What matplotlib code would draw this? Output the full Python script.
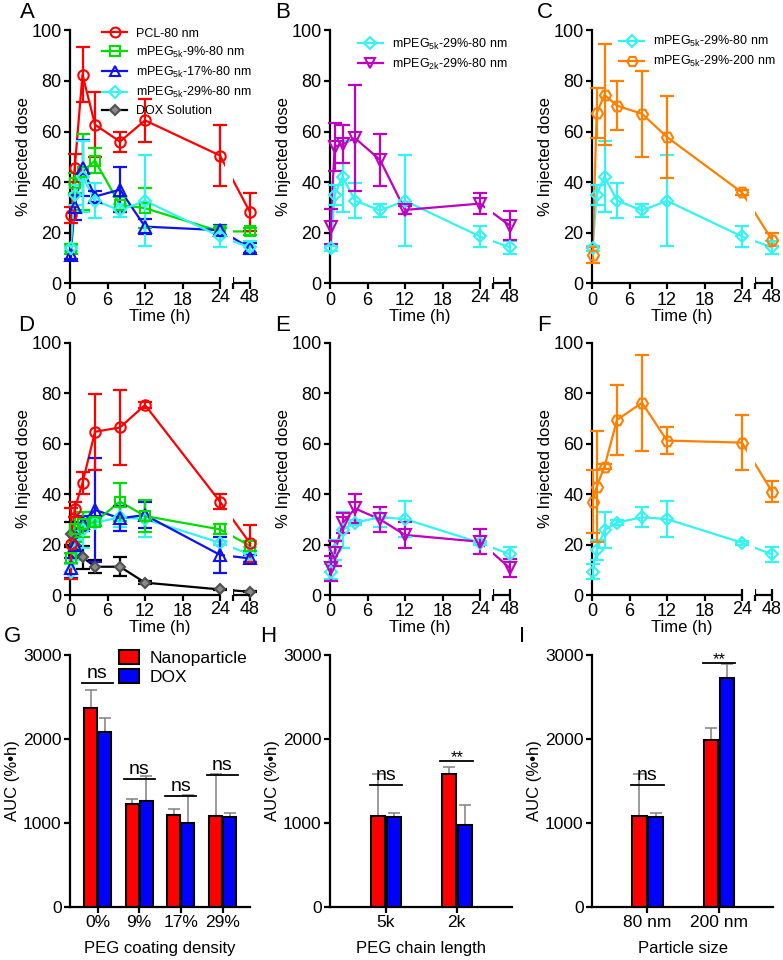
import matplotlib
matplotlib.use("Agg")
import matplotlib.pyplot as plt
from matplotlib.lines import Line2D
from matplotlib.patches import Patch
import numpy as np

plt.rcParams['font.family'] = ['Liberation Sans', 'DejaVu Sans']
plt.rcParams['mathtext.fontset'] = 'custom'
plt.rcParams['mathtext.rm'] = 'Liberation Sans'

# ---------------- data ----------------
times = [0.083, 0.75, 2, 4, 8, 12, 24, 48]

pcl80_A = [27, 45.5, 82.5, 62.7, 56, 64.4, 50.5, 28.1]
pcl80_A_err = [3, 5.5, 10.8, 12.8, 4, 8.4, 12, 7.5]
peg9_A = [13.5, 39.5, 44, 48.5, 31, 29.7, 20.5, 20.5]
peg9_A_err = [2, 4, 15, 5, 3, 8, 1.5, 1.5]
peg17_A = [11.2, 30, 45.5, 34.3, 37, 22.4, 21, 13.9]
peg17_A_err = [1.5, 5, 11, 2, 9, 3, 2, 2]
peg29_top = [13.9, 35, 42.2, 32.7, 28.8, 32.6, 18.5, 14.2]
peg29_top_err = [1, 4, 14, 7, 2.7, 18, 4, 2.5]
peg2k_B = [22.4, 54, 55, 57.4, 48.8, 29, 31.5, 22.8]
peg2k_B_err = [7, 9.5, 7.5, 21, 10.3, 1.5, 4, 5.6]
nm200_C = [11.2, 67.3, 74.5, 70.2, 67, 57.8, 35.9, 17.2]
nm200_C_err = [3, 10, 20, 9.6, 17, 16.3, 1, 2.5]

pcl80_D = [20.3, 34, 44.4, 64.7, 66.4, 75.3, 37, 20.5]
pcl80_D_err = [14, 3, 4.4, 15, 15, 1, 3, 7.3]
peg9_D = [14.5, 26, 28, 29, 37, 31.3, 26, 19.5]
peg9_D_err = [2, 5, 5, 1.5, 7.5, 6.5, 2, 2]
peg17_D = [10.6, 20, 28.5, 33.7, 30.4, 31.7, 15.9, 14.5]
peg17_D_err = [4, 5, 3, 20.5, 5, 5, 7, 1.5]
peg29_bot = [9.2, 17.8, 25.8, 28.7, 30.8, 30.1, 20.7, 16.1]
peg29_bot_err = [3, 4, 7, 1, 4, 7, 0.8, 3]
dox_D = [24, 20, 15, 11.2, 11.2, 4.9, 2.2, 1.3]
dox_D_err = [5, 4, 4.5, 2.5, 3.8, 0.5, 0.3, 0.3]
peg2k_E = [10.6, 16.5, 28.4, 34.3, 30, 23.8, 21.1, 10.6]
peg2k_E_err = [5, 5, 4, 5.7, 5, 5, 5, 3.5]
nm200_F = [37, 42.9, 50.9, 69.4, 76.2, 61.2, 60.4, 41]
nm200_F_err = [12.4, 22, 1, 14, 19, 5.5, 11, 4]

G_cats = ['0%', '9%', '17%', '29%']
G_nano = [2364, 1232, 1093, 1085]
G_nano_err = [219, 59, 79, 504]
G_dox = [2086, 1264, 1005, 1073]
G_dox_err = [159, 294, 334, 51]
G_sig = ['ns', 'ns', 'ns', 'ns']
G_sig_level = [2662, 1518, 1319, 1570]

H_cats = ['5k', '2k']
H_nano = [1085, 1578]
H_nano_err = [504, 83]
H_dox = [1073, 974]
H_dox_err = [51, 238]
H_sig = ['ns', '**']
H_sig_level = [1450, 1740]

I_cats = ['80 nm', '200 nm']
I_nano = [1085, 1987]
I_nano_err = [504, 139]
I_dox = [1073, 2722]
I_dox_err = [51, 167]
I_sig = ['ns', '**']
I_sig_level = [1450, 2901]

# --------------- styles ---------------
RED = '#ff0000'
GREEN = '#00dd00'
BLUE = '#1010f0'
CYAN = '#33f3f3'
PURPLE = '#c000c0'
ORANGE = '#ff7f00'

lab_pcl = 'PCL-80 nm'
lab_9 = r'mPEG$_{\mathregular{5k}}$-9%-80 nm'
lab_17 = r'mPEG$_{\mathregular{5k}}$-17%-80 nm'
lab_29 = r'mPEG$_{\mathregular{5k}}$-29%-80 nm'
lab_2k = r'mPEG$_{\mathregular{2k}}$-29%-80 nm'
lab_200 = r'mPEG$_{\mathregular{5k}}$-29%-200 nm'
lab_dox = 'DOX Solution'

S_PCL = dict(color=RED, marker='o', ms=7.5)
S_9 = dict(color=GREEN, marker='s', ms=7)
S_17 = dict(color=BLUE, marker='^', ms=8)
S_29 = dict(color=CYAN, marker='D', ms=6.5)
S_2K = dict(color=PURPLE, marker='v', ms=8)
S_200 = dict(color=ORANGE, marker='H', ms=8)
S_DOX = dict(color='black', marker='D', ms=5)

BREAK_START = 26.13
X48 = 28.8
TICK_FS = 13


def tx(t):
    return t if t <= 24 else 24 + (t - 24) * 0.2


fig = plt.figure(figsize=(7.83, 9.6), dpi=100)
W, H = 783.0, 960.0


def make_ax(x0, ytop, x1, ybot):
    return fig.add_axes([x0 / W, 1 - ybot / H, (x1 - x0) / W, (ybot - ytop) / H])


def series(ax, y, err, style, dox=False):
    xs = [tx(t) for t in times]
    c = style['color']
    ax.plot(xs, y, color=c, lw=1.6, zorder=2, clip_on=False)
    if dox:
        mfc, mec = '#8a8a8a', '#505050'
    else:
        mfc, mec = 'none', c
    ax.errorbar(xs, y, yerr=err, fmt='none', ecolor=c, elinewidth=1.6,
                capsize=5, capthick=1.6, zorder=3, clip_on=False)
    ax.plot(xs, y, ls='none', marker=style['marker'], ms=style['ms'],
            mfc=mfc, mec=mec, mew=1.5, zorder=4, clip_on=False)


def time_axes(ax):
    ax.set_xlim(0, X48)
    ax.set_ylim(0, 100)
    ax.axvspan(24.85, BREAK_START - 0.05, color='white', zorder=2.5, lw=0)
    for s in ['top', 'right', 'bottom']:
        ax.spines[s].set_visible(False)
    ax.spines['left'].set_linewidth(1.6)
    ax.plot([0, 24], [0, 0], color='black', lw=1.6, clip_on=False, zorder=6,
            solid_capstyle='butt')
    ax.plot([BREAK_START, X48], [0, 0], color='black', lw=1.6, clip_on=False,
            zorder=6, solid_capstyle='butt')
    ax.set_xticks([0, 6, 12, 18])
    ax.set_xticklabels(['0', '6', '12', '18'])
    ax.set_xticks([24, BREAK_START, X48], minor=True)
    ax.set_xticklabels(['24', '', '48'], minor=True)
    ax.tick_params(axis='x', which='major', direction='out', length=4, width=1.6,
                   labelsize=TICK_FS, pad=2)
    ax.tick_params(axis='x', which='minor', direction='inout', length=8, width=1.6,
                   labelsize=TICK_FS, pad=0)
    ax.set_yticks([0, 20, 40, 60, 80, 100])
    ax.tick_params(axis='y', direction='out', length=4, width=1.6, labelsize=TICK_FS, pad=2)
    ax.set_xlabel('Time (h)', fontsize=12, labelpad=0)
    ax.set_ylabel('% Injected dose', fontsize=12, labelpad=0)


def leg(ax, styles, labels, x, y):
    handles = []
    for st in styles:
        dox = st is S_DOX
        handles.append(Line2D([], [], color=st['color'], lw=1.6, marker=st['marker'],
                              ms=st['ms'] * 0.95,
                              mfc='#8a8a8a' if dox else 'none',
                              mec='#505050' if dox else st['color'], mew=1.5))
    lg = ax.legend(handles, labels, loc='upper left', bbox_to_anchor=(x, y),
                   frameon=False, fontsize=9, handlelength=2.0, handletextpad=0.7,
                   labelspacing=0.4, borderpad=0, borderaxespad=0)
    lg.set_zorder(10)


row_y = [(30.3, 283.3), (342.7, 595.0)]
col_x = [(70, 250), (330, 510), (592, 772)]

# A
axA = make_ax(col_x[0][0], row_y[0][0], col_x[0][1], row_y[0][1])
series(axA, pcl80_A, pcl80_A_err, S_PCL)
series(axA, peg9_A, peg9_A_err, S_9)
series(axA, peg17_A, peg17_A_err, S_17)
series(axA, peg29_top, peg29_top_err, S_29)
time_axes(axA)
leg(axA, [S_PCL, S_9, S_17, S_29, S_DOX], [lab_pcl, lab_9, lab_17, lab_29, lab_dox], 0.18, 1.01)

# B
axB = make_ax(col_x[1][0], row_y[0][0], col_x[1][1], row_y[0][1])
series(axB, peg29_top, peg29_top_err, S_29)
series(axB, peg2k_B, peg2k_B_err, S_2K)
time_axes(axB)
leg(axB, [S_29, S_2K], [lab_29, lab_2k], 0.155, 0.975)

# C
axC = make_ax(col_x[2][0], row_y[0][0], col_x[2][1], row_y[0][1])
series(axC, peg29_top, peg29_top_err, S_29)
series(axC, nm200_C, nm200_C_err, S_200)
time_axes(axC)
leg(axC, [S_29, S_200], [lab_29, lab_200], 0.15, 0.985)

# D
axD = make_ax(col_x[0][0], row_y[1][0], col_x[0][1], row_y[1][1])
series(axD, dox_D, dox_D_err, S_DOX, dox=True)
series(axD, peg29_bot, peg29_bot_err, S_29)
series(axD, peg17_D, peg17_D_err, S_17)
series(axD, peg9_D, peg9_D_err, S_9)
series(axD, pcl80_D, pcl80_D_err, S_PCL)
time_axes(axD)

# E
axE = make_ax(col_x[1][0], row_y[1][0], col_x[1][1], row_y[1][1])
series(axE, peg29_bot, peg29_bot_err, S_29)
series(axE, peg2k_E, peg2k_E_err, S_2K)
time_axes(axE)

# F
axF = make_ax(col_x[2][0], row_y[1][0], col_x[2][1], row_y[1][1])
series(axF, peg29_bot, peg29_bot_err, S_29)
series(axF, nm200_F, nm200_F_err, S_200)
time_axes(axF)


# --------------- bar panels ---------------
def bar_panel(ax, cats, nano, nano_err, dox, dox_err, sig, sig_lvl, xlim,
              offset, width, sig_half, xlabel, show_legend=False):
    pos = np.arange(len(cats))
    ax.bar(pos - offset, nano, width, color=RED, edgecolor='black', lw=1.5, zorder=2)
    ax.bar(pos + offset, dox, width, color='#0000ff', edgecolor='black', lw=1.5, zorder=2)
    ax.errorbar(pos - offset, nano, yerr=[[0] * len(cats), nano_err], fmt='none',
                ecolor='#808080', elinewidth=1.1, capsize=4, capthick=1.1, zorder=1)
    ax.errorbar(pos + offset, dox, yerr=[[0] * len(cats), dox_err], fmt='none',
                ecolor='#808080', elinewidth=1.1, capsize=4, capthick=1.1, zorder=1)
    for p, s, lv in zip(pos, sig, sig_lvl):
        ax.plot([p - sig_half, p + sig_half], [lv, lv], color='black', lw=1.3, zorder=3)
        if s == 'ns':
            ax.annotate(s, (p, lv), xytext=(0, 1), textcoords='offset points',
                        ha='center', va='bottom', fontsize=14)
        else:
            ax.annotate(s, (p, lv), xytext=(0, -3), textcoords='offset points',
                        ha='center', va='bottom', fontsize=12)
    ax.set_xlim(*xlim)
    ax.set_ylim(0, 3000)
    ax.set_xticks(pos)
    ax.set_xticklabels(cats)
    ax.set_yticks([0, 1000, 2000, 3000])
    for s in ['top', 'right']:
        ax.spines[s].set_visible(False)
    for s in ['left', 'bottom']:
        ax.spines[s].set_linewidth(1.6)
    ax.tick_params(axis='both', direction='out', length=4, width=1.6, labelsize=12.5, pad=2)
    ax.set_ylabel('AUC (%\u2022h)', fontsize=12, labelpad=2)
    ax.set_xlabel(xlabel, fontsize=12, labelpad=8)
    if show_legend:
        handles = [Patch(facecolor=RED, edgecolor='black', lw=1.5),
                   Patch(facecolor='#0000ff', edgecolor='black', lw=1.5)]
        ax.legend(handles, ['Nanoparticle', 'DOX'], loc='upper left',
                  bbox_to_anchor=(0.27, 1.02), frameon=False, fontsize=12.5,
                  handlelength=1.2, handleheight=0.9, handletextpad=0.6,
                  labelspacing=0.15, borderpad=0, borderaxespad=0)


axG = make_ax(70, 655, 250, 907)
bar_panel(axG, G_cats, G_nano, G_nano_err, G_dox, G_dox_err, G_sig, G_sig_level,
          (-0.66, 3.66), 0.168, 0.31, 0.37, 'PEG coating density', show_legend=True)
axH = make_ax(330, 655, 512, 907)
bar_panel(axH, H_cats, H_nano, H_nano_err, H_dox, H_dox_err, H_sig, H_sig_level,
          (-0.79, 1.78), 0.113, 0.2, 0.23, 'PEG chain length')
axI = make_ax(592, 655, 773, 907)
bar_panel(axI, I_cats, I_nano, I_nano_err, I_dox, I_dox_err, I_sig, I_sig_level,
          (-0.777, 1.758), 0.113, 0.2, 0.225, 'Particle size')

# panel letters
letters = [('A', 20, 13), ('B', 275, 13), ('C', 537, 13),
           ('D', 18, 325), ('E', 275, 325), ('F', 537, 325),
           ('G', 4, 636), ('H', 260, 636), ('I', 519, 636)]
for ch, x, y in letters:
    fig.text(x / W, 1 - y / H, ch, fontsize=16, ha='left', va='center')

fig.savefig('out.png', dpi=100)
